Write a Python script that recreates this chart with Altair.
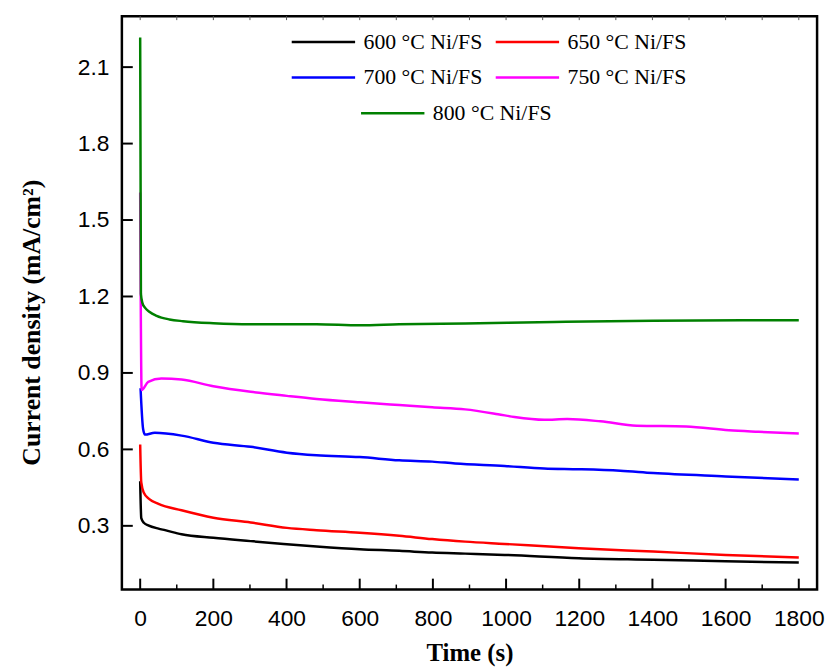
import altair as alt
import pandas as pd

# ---- data ----
labels = ["600 °C Ni/FS", "650 °C Ni/FS", "700 °C Ni/FS", "750 °C Ni/FS", "800 °C Ni/FS"]
colors = ["#000000", "#ff0000", "#0000ff", "#ff00ff", "#008000"]

t600 = [0, 3, 10, 22, 50, 68, 113, 200, 302, 392, 482, 600, 708, 798, 888, 996, 1199, 1402, 1600, 1800]
v600 = [0.475, 0.33, 0.312, 0.302, 0.289, 0.283, 0.267, 0.253, 0.240, 0.229, 0.219, 0.208, 0.202, 0.195, 0.191, 0.186, 0.173, 0.167, 0.161, 0.156]

t650 = [0, 3, 10, 25, 50, 113, 200, 302, 401, 482, 600, 708, 798, 888, 996, 1199, 1402, 1600, 1800]
v650 = [0.619, 0.47, 0.43, 0.405, 0.386, 0.361, 0.332, 0.313, 0.292, 0.283, 0.273, 0.261, 0.248, 0.238, 0.229, 0.212, 0.199, 0.186, 0.176]

t700 = [1, 8, 13, 40, 113, 200, 302, 401, 482, 600, 708, 798, 861, 996, 1104, 1199, 1312, 1402, 1600, 1800]
v700 = [0.84, 0.68, 0.658, 0.665, 0.654, 0.626, 0.610, 0.587, 0.577, 0.570, 0.557, 0.552, 0.545, 0.535, 0.525, 0.522, 0.516, 0.507, 0.494, 0.482]

t750 = [0, 4, 22, 58, 113, 200, 302, 401, 482, 600, 708, 798, 888, 978, 1023, 1104, 1167, 1258, 1357, 1492, 1609, 1690, 1800]
v750 = [1.608, 0.833, 0.865, 0.878, 0.874, 0.848, 0.826, 0.810, 0.798, 0.785, 0.774, 0.765, 0.757, 0.738, 0.727, 0.716, 0.719, 0.710, 0.693, 0.690, 0.675, 0.669, 0.662]

t800 = [0, 2, 6, 13, 25, 45, 80, 117, 200, 302, 482, 600, 708, 888, 1131, 1402, 1800]
v800 = [2.216, 1.21, 1.175, 1.156, 1.14, 1.124, 1.11, 1.103, 1.095, 1.091, 1.091, 1.087, 1.091, 1.094, 1.100, 1.105, 1.107]

x_major = [0, 200, 400, 600, 800, 1000, 1200, 1400, 1600, 1800]
x_minor = [100, 300, 500, 700, 900, 1100, 1300, 1500, 1700]
x_top = [0, 100, 200, 300, 400, 500, 600, 700, 800, 900, 1000, 1100, 1200, 1300, 1400, 1500, 1600, 1700, 1800]
y_major = [0.3, 0.6, 0.9, 1.2, 1.5, 1.8, 2.1]

series = [(labels[0], t600, v600), (labels[1], t650, v650), (labels[2], t700, v700),
          (labels[3], t750, v750), (labels[4], t800, v800)]
rows = []
for lab, ts, vs in series:
    for t, v in zip(ts, vs):
        rows.append({"series": lab, "t": t, "v": v})
df = pd.DataFrame(rows)
df4 = df[df["series"] != labels[4]]
df5 = df[df["series"] == labels[4]]

W, H = 702, 579
xscale = alt.Scale(domain=[-50, 1850], nice=False, zero=False)
yscale = alt.Scale(domain=[0.05, 2.3], nice=False, zero=False)

xaxis = alt.Axis(title="Time (s)", values=x_major, format="d", ticks=False, domain=False, grid=False,
                 labelFont="Liberation Sans", labelFontSize=23, labelColor="black", labelPadding=18,
                 titleFont="Liberation Serif", titleFontSize=25, titleFontWeight="bold",
                 titleColor="black", titlePadding=11)
yaxis = alt.Axis(title="Current density (mA/cm²)", values=y_major, format=".1f", ticks=False,
                 domain=False, grid=False,
                 labelFont="Liberation Sans", labelFontSize=23, labelColor="black", labelPadding=13,
                 titleFont="Liberation Serif", titleFontSize=26, titleFontWeight="bold",
                 titleColor="black", titlePadding=33, titleY=309)

leg_common = dict(title=None, orient="none", direction="horizontal", symbolType="stroke",
                  symbolSize=4096, symbolStrokeWidth=2.5, clipHeight=22,
                  labelFont="Liberation Serif", labelFontSize=22, labelColor="black",
                  labelOffset=7, padding=0, labelLimit=300)

lines4 = alt.Chart(df4).mark_line(strokeWidth=2.5, interpolate="monotone").encode(
    x=alt.X("t:Q", scale=xscale, axis=xaxis),
    y=alt.Y("v:Q", scale=yscale, axis=yaxis),
    color=alt.Color("series:N", scale=alt.Scale(domain=labels[:4], range=colors[:4]),
                    legend=alt.Legend(columns=2, legendX=170, legendY=15, columnPadding=11,
                                      rowPadding=14, **leg_common)),
)

lines5 = alt.Chart(df5).mark_line(strokeWidth=2.5, interpolate="monotone").encode(
    x=alt.X("t:Q", scale=xscale, axis=xaxis),
    y=alt.Y("v:Q", scale=yscale, axis=yaxis),
    color=alt.Color("series:N", scale=alt.Scale(domain=labels[4:], range=colors[4:]),
                    legend=alt.Legend(legendX=240, legendY=87, **leg_common)),
)

tick_major_x = alt.Chart(pd.DataFrame({"t": x_major})).mark_rule(color="black", strokeWidth=2).encode(
    x=alt.X("t:Q", scale=xscale, axis=xaxis), y=alt.value(H), y2=alt.value(H - 11))
tick_minor_x = alt.Chart(pd.DataFrame({"t": x_minor})).mark_rule(color="black", strokeWidth=1.5).encode(
    x=alt.X("t:Q", scale=xscale, axis=xaxis), y=alt.value(H), y2=alt.value(H - 5))
tick_top = alt.Chart(pd.DataFrame({"t": x_top})).mark_rule(color="#555555", strokeWidth=1).encode(
    x=alt.X("t:Q", scale=xscale, axis=xaxis), y=alt.value(0), y2=alt.value(4))
tick_major_y = alt.Chart(pd.DataFrame({"v": y_major})).mark_rule(color="black", strokeWidth=2).encode(
    y=alt.Y("v:Q", scale=yscale, axis=yaxis), x=alt.value(0), x2=alt.value(11))

chart = alt.layer(
    lines4, lines5, tick_major_x, tick_minor_x, tick_top, tick_major_y
).resolve_scale(color="independent").properties(
    width=W, height=H,
    autosize=alt.AutoSizeParams(type="none"),
    padding={"left": 115, "top": 5, "right": 8, "bottom": 78},
    background="white",
).configure_view(stroke="black", strokeWidth=2.5)

chart.save("out.html", embed_options={"renderer": "svg", "actions": False})
